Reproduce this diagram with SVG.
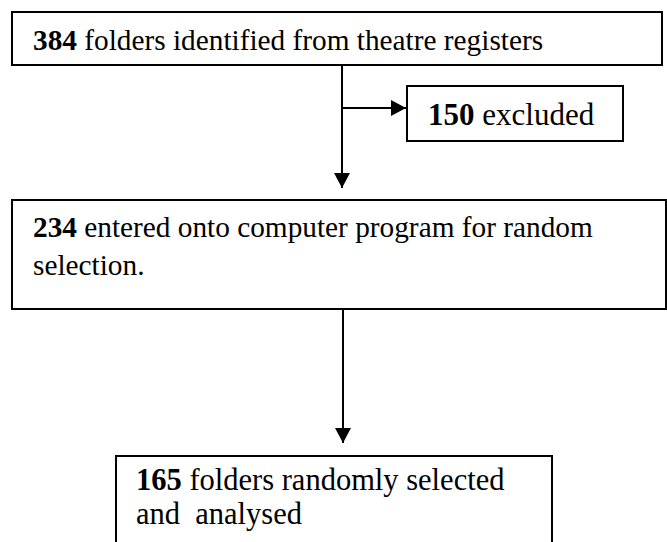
<svg xmlns="http://www.w3.org/2000/svg" width="667" height="542" viewBox="0 0 667 542">
  <style>
    .box { fill: #ffffff; stroke: #000000; stroke-width: 2; }
    .lbl { font-family: "Liberation Serif", "Times New Roman", serif; font-size: 29.3px; fill: #000000; white-space: pre; }
    .num { font-weight: bold; }
    .edge { stroke: #000000; stroke-width: 2; fill: none; }
  </style>
  <defs>
    <marker id="arrow" markerWidth="16" markerHeight="16" refX="15" refY="8" orient="auto" markerUnits="userSpaceOnUse">
      <path d="M0,0 L15,8 L0,16 Z" fill="#000000"/>
    </marker>
  </defs>
  <rect width="667" height="542" fill="#ffffff"/>

  <g id="connectors">
    <path class="edge" d="M342,66 L342,188" marker-end="url(#arrow)"/>
    <path class="edge" d="M342,108 L406,108" marker-end="url(#arrow)"/>
    <path class="edge" d="M343,310 L343,443" marker-end="url(#arrow)"/>
  </g>

  <g id="identified">
    <rect class="box" x="12" y="12" width="650" height="53"/>
    <text class="lbl" x="33" y="50"><tspan class="num">384</tspan> folders identified from theatre registers</text>
  </g>

  <g id="excluded">
    <rect class="box" x="407" y="86" width="216" height="55"/>
    <text class="lbl" x="428" y="125" style="font-size:31px"><tspan class="num">150</tspan> excluded</text>
  </g>

  <g id="entered">
    <rect class="box" x="12" y="200" width="654" height="109"/>
    <text class="lbl" x="33" y="237"><tspan class="num">234</tspan> entered onto computer program for random</text>
    <text class="lbl" x="33" y="275">selection.</text>
  </g>

  <g id="selected">
    <rect class="box" x="116" y="456" width="436" height="100"/>
    <text class="lbl" x="136" y="490" style="font-size:30.5px"><tspan class="num">165</tspan> folders randomly selected</text>
    <text class="lbl" x="136" y="524" style="font-size:30.5px">and  analysed</text>
  </g>
</svg>
